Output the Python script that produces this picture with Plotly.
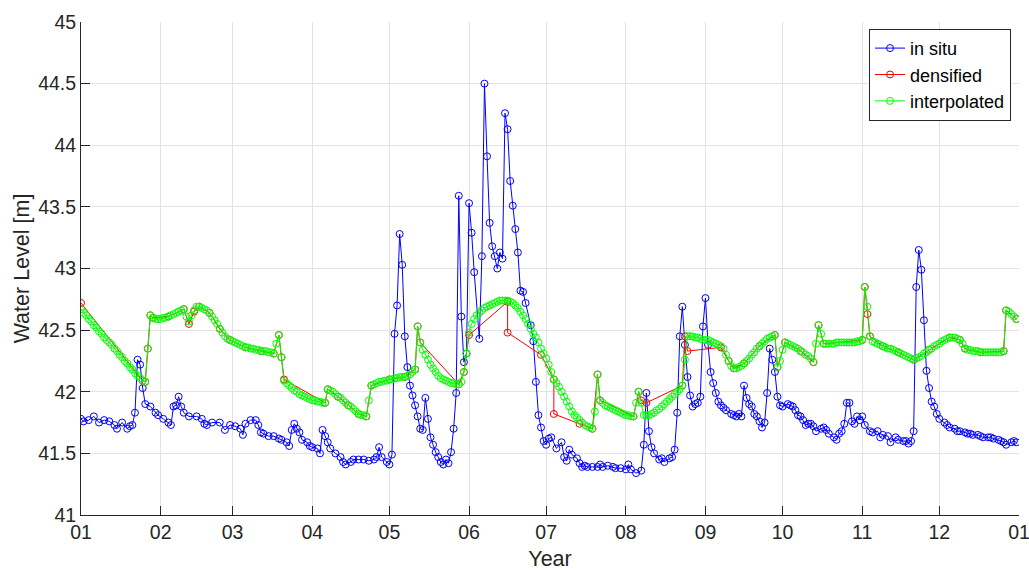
import pandas as pd
import plotly.graph_objects as go

YEAR_START = pd.Timestamp("2019-01-01")

# In situ gauge readings: day of year (0 = 1 Jan) and water level [m]
insitu_day = [
    0, 1, 3, 5, 7, 9, 11, 13, 14, 16, 18, 19, 20, 21, 22, 23, 24, 25, 27, 29,
    30, 32, 34, 35, 36, 37, 38, 39, 40, 42, 45, 47, 48, 49, 51, 54, 56, 58, 60, 62,
    63, 64, 66, 68, 69, 70, 71, 73, 75, 77, 78, 80, 81, 82, 83, 84, 85, 86, 88, 89,
    90, 92, 93, 94, 95, 96, 97, 99, 101, 102, 103, 105, 106, 108, 110, 112, 114, 115, 116, 117,
    119, 120, 121, 122, 123, 124, 125, 126, 127, 128, 129, 130, 131, 132, 133, 134, 135, 136, 137, 138,
    139, 140, 141, 142, 143, 144, 145, 146, 147, 148, 149, 150, 151, 152, 153, 155, 156, 157, 158, 159,
    160, 161, 162, 163, 164, 165, 166, 167, 168, 169, 170, 171, 172, 173, 175, 176, 177, 178, 179, 180,
    181, 182, 183, 185, 187, 188, 189, 190, 191, 193, 194, 195, 196, 197, 199, 201, 202, 203, 205, 207,
    208, 210, 212, 213, 214, 216, 218, 219, 220, 221, 222, 223, 225, 226, 227, 229, 230, 231, 232, 233,
    234, 235, 236, 237, 238, 239, 240, 241, 242, 243, 244, 245, 246, 247, 248, 249, 250, 251, 253, 254,
    255, 256, 257, 258, 259, 260, 261, 262, 263, 264, 265, 266, 267, 268, 269, 270, 271, 272, 273, 275,
    276, 277, 278, 279, 280, 281, 282, 283, 284, 285, 286, 288, 289, 290, 291, 293, 294, 295, 296, 297,
    298, 299, 300, 301, 302, 303, 304, 305, 307, 308, 310, 311, 312, 314, 315, 317, 318, 320, 321, 322,
    323, 324, 325, 326, 327, 328, 329, 330, 331, 332, 333, 334, 336, 337, 338, 340, 341, 342, 344, 345,
    346, 347, 349, 350, 351, 353, 354, 355, 357, 358, 359, 360, 362, 363, 364,
]
insitu_level = [
    41.78, 41.76, 41.77, 41.80, 41.75, 41.77, 41.76, 41.73, 41.70, 41.75, 41.70, 41.72, 41.73, 41.83, 42.26, 42.22, 42.03, 41.90, 41.88, 41.83,
    41.81, 41.78, 41.75, 41.73, 41.88, 41.89, 41.96, 41.88, 41.83, 41.80, 41.80, 41.78, 41.74, 41.73, 41.75, 41.75, 41.69, 41.73, 41.72, 41.70,
    41.65, 41.74, 41.77, 41.77, 41.73, 41.67, 41.66, 41.64, 41.64, 41.62, 41.61, 41.59, 41.56, 41.69, 41.74, 41.70, 41.67, 41.61, 41.59, 41.56,
    41.55, 41.54, 41.50, 41.69, 41.64, 41.59, 41.54, 41.50, 41.47, 41.43, 41.41, 41.43, 41.45, 41.45, 41.45, 41.44, 41.45, 41.47, 41.55, 41.47,
    41.43, 41.41, 41.49, 42.47, 42.70, 43.28, 43.03, 42.45, 42.20, 42.05, 41.97, 41.89, 41.80, 41.70, 41.69, 41.95, 41.78, 41.63, 41.57, 41.51,
    41.47, 41.43, 41.41, 41.45, 41.42, 41.51, 41.70, 41.99, 43.59, 42.61, 42.24, 42.31, 43.53, 43.29, 42.97, 42.43, 43.10, 44.50, 43.91, 43.37,
    43.18, 43.10, 43.00, 43.13, 43.08, 44.26, 44.13, 43.71, 43.51, 43.32, 43.13, 42.82, 42.81, 42.72, 42.54, 42.41, 42.08, 41.81, 41.71, 41.60,
    41.57, 41.62, 41.63, 41.54, 41.59, 41.47, 41.44, 41.53, 41.49, 41.46, 41.42, 41.39, 41.40, 41.39, 41.39, 41.39, 41.41, 41.39, 41.40, 41.39,
    41.38, 41.38, 41.37, 41.41, 41.37, 41.34, 41.36, 41.57, 41.99, 41.68, 41.55, 41.50, 41.45, 41.46, 41.43, 41.46, 41.47, 41.53, 41.83, 42.45,
    42.69, 42.38, 42.12, 41.97, 41.88, 41.90, 41.91, 41.96, 42.53, 42.76, 42.38, 42.16, 42.07, 41.99, 41.92, 41.89, 41.87, 41.85, 41.82, 41.81,
    41.80, 41.82, 41.80, 42.05, 41.95, 41.90, 41.88, 41.82, 41.80, 41.76, 41.71, 41.75, 41.99, 42.35, 42.26, 42.16, 41.96, 41.89, 41.88, 41.90,
    41.89, 41.88, 41.85, 41.81, 41.80, 41.77, 41.73, 41.74, 41.74, 41.72, 41.68, 41.70, 41.71, 41.69, 41.66, 41.63, 41.61, 41.66, 41.68, 41.74,
    41.91, 41.91, 41.76, 41.74, 41.80, 41.77, 41.80, 41.73, 41.68, 41.67, 41.68, 41.63, 41.65, 41.64, 41.59, 41.63, 41.61, 41.60, 41.60, 41.58,
    41.60, 41.68, 42.85, 43.15, 42.99, 42.58, 42.17, 42.03, 41.92, 41.88, 41.82, 41.78, 41.75, 41.73, 41.71, 41.70, 41.68, 41.68, 41.67, 41.66,
    41.66, 41.65, 41.65, 41.64, 41.63, 41.63, 41.63, 41.62, 41.61, 41.60, 41.59, 41.57, 41.59, 41.60, 41.59,
]

# Densified series (sparse support points)
densified_day = [
    0, 24, 25, 26, 27, 28, 34, 40, 42, 44, 46, 50, 54, 58, 64, 70, 75, 77, 78, 79,
    95, 96, 100, 104, 108, 111, 113, 120, 126, 130, 131, 132, 147, 149, 151, 166, 166, 179, 184, 184,
    194, 199, 201, 202, 215, 217, 218, 220, 234, 235, 236, 249, 252, 254, 258, 264, 270, 271, 274, 280,
    285, 287, 289, 304, 305, 306, 307, 312, 318, 324, 330, 338, 342, 344, 350, 359, 360, 364,
]
densified_level = [
    42.72, 42.09, 42.08, 42.35, 42.62, 42.60, 42.61, 42.67, 42.55, 42.65, 42.69, 42.64, 42.51, 42.42, 42.36, 42.33, 42.31, 42.46, 42.28, 42.10,
    41.91, 42.02, 41.96, 41.89, 41.82, 41.80, 42.05, 42.10, 42.12, 42.18, 42.53, 42.40, 42.06, 42.16, 42.46, 42.73, 42.48, 42.30, 42.10, 41.82,
    41.74, 41.70, 42.14, 41.93, 41.80, 42.00, 41.93, 41.91, 42.05, 42.45, 42.33, 42.36, 42.25, 42.19, 42.23, 42.37, 42.46, 42.20, 42.40, 42.33,
    42.24, 42.54, 42.39, 42.42, 42.85, 42.63, 42.45, 42.37, 42.32, 42.26, 42.34, 42.44, 42.42, 42.35, 42.32, 42.33, 42.66, 42.59,
]

# Interpolated series: one value per day of the year
interp_day = list(range(365))
interp_level = [
    42.67, 42.64, 42.62, 42.59, 42.57, 42.54, 42.52, 42.49, 42.47, 42.44,
    42.42, 42.40, 42.38, 42.35, 42.33, 42.30, 42.28, 42.25, 42.23, 42.20,
    42.18, 42.15, 42.13, 42.11, 42.09, 42.08, 42.35, 42.62, 42.60, 42.59,
    42.59, 42.59, 42.60, 42.60, 42.61, 42.62, 42.63, 42.64, 42.65, 42.66,
    42.67, 42.61, 42.57, 42.62, 42.66, 42.69, 42.69, 42.68, 42.67, 42.66,
    42.64, 42.61, 42.58, 42.55, 42.51, 42.48, 42.45, 42.43, 42.42, 42.41,
    42.40, 42.39, 42.38, 42.37, 42.36, 42.36, 42.35, 42.35, 42.34, 42.34,
    42.33, 42.33, 42.33, 42.32, 42.32, 42.31, 42.39, 42.46, 42.28, 42.09,
    42.07, 42.05, 42.03, 42.01, 42.00, 41.98, 41.97, 41.96, 41.95, 41.94,
    41.93, 41.93, 41.92, 41.92, 41.91, 41.91, 42.02, 42.01, 42.00, 41.98,
    41.96, 41.95, 41.93, 41.91, 41.89, 41.88, 41.86, 41.84, 41.82, 41.81,
    41.81, 41.80, 41.93, 42.05, 42.06, 42.07, 42.08, 42.08, 42.09, 42.09,
    42.10, 42.10, 42.11, 42.11, 42.12, 42.12, 42.12, 42.13, 42.14, 42.16,
    42.18, 42.53, 42.40, 42.34, 42.30, 42.26, 42.22, 42.19, 42.16, 42.13,
    42.11, 42.10, 42.09, 42.08, 42.07, 42.07, 42.06, 42.06, 42.08, 42.16,
    42.31, 42.48, 42.55, 42.59, 42.62, 42.64, 42.66, 42.68, 42.69, 42.70,
    42.71, 42.72, 42.73, 42.74, 42.74, 42.74, 42.74, 42.73, 42.72, 42.70,
    42.68, 42.65, 42.62, 42.59, 42.55, 42.51, 42.47, 42.44, 42.40, 42.35,
    42.31, 42.27, 42.22, 42.16, 42.10, 42.07, 42.04, 42.00, 41.96, 41.92,
    41.88, 41.84, 41.81, 41.79, 41.77, 41.75, 41.73, 41.72, 41.71, 41.70,
    41.84, 42.14, 41.93, 41.91, 41.89, 41.88, 41.87, 41.86, 41.85, 41.84,
    41.83, 41.82, 41.81, 41.81, 41.80, 41.80, 41.91, 42.00, 41.91, 41.81,
    41.81, 41.81, 41.82, 41.83, 41.85, 41.86, 41.88, 41.90, 41.92, 41.94,
    41.96, 41.98, 42.00, 42.02, 42.05, 42.26, 42.45, 42.45, 42.45, 42.44,
    42.44, 42.43, 42.42, 42.42, 42.42, 42.41, 42.40, 42.39, 42.38, 42.37,
    42.35, 42.30, 42.25, 42.21, 42.19, 42.19, 42.20, 42.21, 42.23, 42.25,
    42.27, 42.30, 42.32, 42.35, 42.37, 42.39, 42.41, 42.43, 42.44, 42.45,
    42.46, 42.20, 42.25, 42.34, 42.40, 42.39, 42.38, 42.37, 42.36, 42.35,
    42.33, 42.32, 42.30, 42.29, 42.27, 42.24, 42.39, 42.54, 42.47, 42.39,
    42.39, 42.39, 42.39, 42.39, 42.40, 42.40, 42.40, 42.40, 42.40, 42.40,
    42.40, 42.40, 42.41, 42.41, 42.42, 42.85, 42.69, 42.45, 42.41, 42.40,
    42.39, 42.38, 42.37, 42.36, 42.35, 42.35, 42.34, 42.33, 42.32, 42.31,
    42.30, 42.29, 42.28, 42.27, 42.26, 42.27, 42.28, 42.29, 42.31, 42.32,
    42.34, 42.35, 42.37, 42.38, 42.39, 42.41, 42.42, 42.43, 42.44, 42.44,
    42.44, 42.43, 42.42, 42.39, 42.35, 42.34, 42.34, 42.33, 42.33, 42.33,
    42.32, 42.32, 42.32, 42.32, 42.32, 42.32, 42.32, 42.32, 42.32, 42.33,
    42.66, 42.65, 42.63, 42.61, 42.59,
]

month_ticks = ["01", "02", "03", "04", "05", "06", "07", "08", "09", "10", "11", "12", "01"]
level_ticks = [41, 41.5, 42, 42.5, 43, 43.5, 44, 44.5, 45]


def to_dates(days):
    return YEAR_START + pd.to_timedelta(days, unit="D")


FONT = "Liberation Sans, Arial, sans-serif"
AXIS_COLOR = "#262626"
GRID_COLOR = "#e3e3e3"
TICK_SIZE = 19.5
TITLE_SIZE = 21.5

series = [
    ("in situ", insitu_day, insitu_level, "#0000ff"),
    ("densified", densified_day, densified_level, "#ff0000"),
    ("interpolated", interp_day, interp_level, "#00ff00"),
]

fig = go.Figure()
for name, days, levels, color in series:
    fig.add_trace(go.Scatter(
        x=to_dates(days), y=levels, name=name, mode="lines+markers",
        line=dict(color=color, width=1),
        marker=dict(symbol="circle-open", size=7, color=color, line=dict(width=1, color=color)),
    ))

month_starts = pd.date_range(YEAR_START, periods=13, freq="MS")

fig.update_layout(
    width=1029, height=571,
    margin=dict(l=81, r=10, t=22, b=56),
    paper_bgcolor="white", plot_bgcolor="white",
    font=dict(family=FONT, color=AXIS_COLOR, size=TICK_SIZE),
    showlegend=True,
    legend=dict(
        x=0.9915, y=0.986, xanchor="right", yanchor="top",
        bgcolor="white", bordercolor=AXIS_COLOR, borderwidth=1,
        font=dict(size=18, color="#000000"),
        tracegroupgap=0, itemwidth=30,
    ),
)
fig.update_xaxes(
    range=[YEAR_START, month_starts[-1]],
    tickmode="array", tickvals=month_starts, ticktext=month_ticks,
    ticklabeloverflow="allow", automargin=False,
    showgrid=True, gridcolor=GRID_COLOR, gridwidth=1,
    showline=True, linecolor=AXIS_COLOR, linewidth=1, mirror=False,
    ticks="inside", ticklen=9, tickcolor=AXIS_COLOR,
    tickfont=dict(size=TICK_SIZE, color=AXIS_COLOR),
    title=dict(text="Year", font=dict(size=TITLE_SIZE, color=AXIS_COLOR), standoff=12),
    zeroline=False,
)
fig.update_yaxes(
    range=[41, 45],
    tickmode="array", tickvals=level_ticks, ticktext=[f"{v:g}" for v in level_ticks],
    automargin=False,
    showgrid=True, gridcolor=GRID_COLOR, gridwidth=1,
    showline=True, linecolor=AXIS_COLOR, linewidth=1, mirror=False,
    ticks="inside", ticklen=9, tickcolor=AXIS_COLOR,
    tickfont=dict(size=TICK_SIZE, color=AXIS_COLOR),
    title=dict(text="Water Level [m]", font=dict(size=TITLE_SIZE, color=AXIS_COLOR), standoff=2),
    zeroline=False,
)

fig.write_html("out.html")
